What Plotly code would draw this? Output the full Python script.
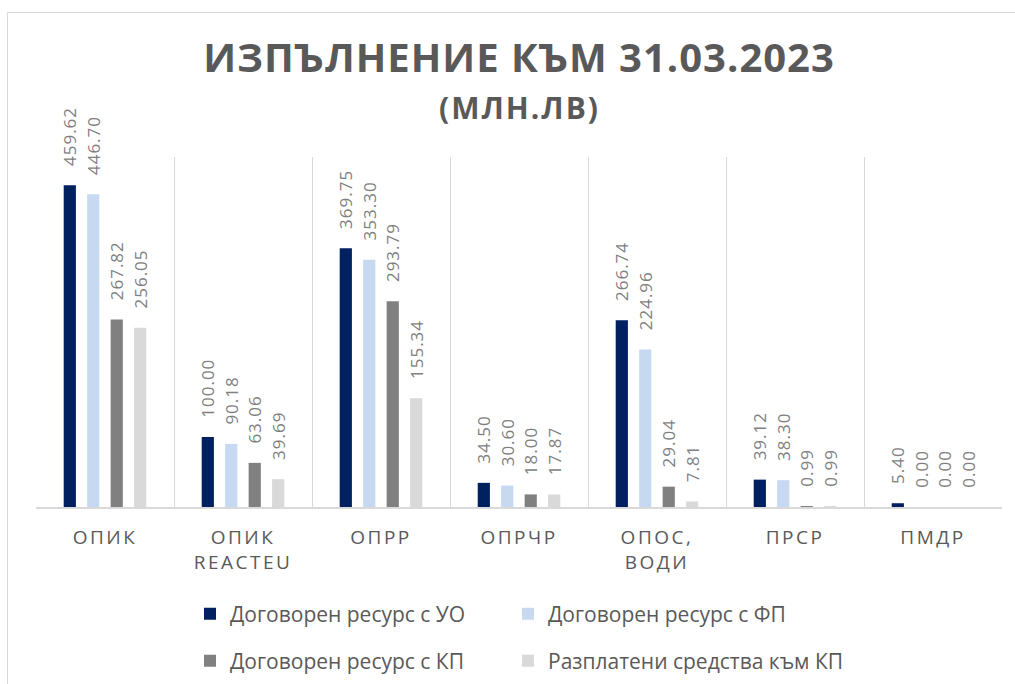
import plotly.graph_objects as go

categories = ["ОПИК", "ОПИК<br>REACTEU", "ОПРР", "ОПРЧР", "ОПОС,<br>ВОДИ", "ПРСР", "ПМДР"]
series_names = [
    "Договорен ресурс с УО",
    "Договорен ресурс с ФП",
    "Договорен ресурс с КП",
    "Разплатени средства към КП",
]
uo_values = [459.62, 100.00, 369.75, 34.50, 266.74, 39.12, 5.40]
fp_values = [446.70, 90.18, 353.30, 30.60, 224.96, 38.30, 0.00]
kp_values = [267.82, 63.06, 293.79, 18.00, 29.04, 0.99, 0.00]
paid_values = [256.05, 39.69, 155.34, 17.87, 7.81, 0.99, 0.00]
colors = ["#002060", "#C6D9F1", "#808080", "#D9D9D9"]

FONT = "Open Sans"
TXT = "#595959"

fig = go.Figure()
all_values = [uo_values, fp_values, kp_values, paid_values]
legend_ids = ["legend", "legend2", "legend3", "legend4"]
for name, vals, col, lg in zip(series_names, all_values, colors, legend_ids):
    fig.add_trace(go.Bar(
        name=name,
        x=categories,
        y=vals,
        marker=dict(color=col, line=dict(width=0)),
        texttemplate="<span style='letter-spacing:1px'>\u00a0\u00a0\u00a0%{y:.2f}</span>",
        textposition="outside",
        textangle=-90,
        constraintext="none",
        cliponaxis=False,
        textfont=dict(family=FONT, size=17, color="#7f7f7f"),
        legend=lg,
        showlegend=True,
        hoverinfo="skip",
    ))

ticktext = ["<span style='letter-spacing:2.5px'>%s</span>" % c for c in categories]

legend_common = dict(
    orientation="h",
    xref="container", yref="container",
    xanchor="left",
    yanchor="middle",
    font=dict(family=FONT, size=21, color=TXT),
    bgcolor="rgba(0,0,0,0)",
    visible=True,
)
col_x = [190 / 1015, 508 / 1015]
row_y = [1 - 614 / 684, 1 - 661 / 684]

fig.update_layout(
    width=1015,
    height=684,
    showlegend=True,
    paper_bgcolor="white",
    plot_bgcolor="white",
    margin=dict(l=36, r=13, t=157, b=177),
    barmode="group",
    bargap=0.32,
    bargroupgap=0.48,
    font=dict(family=FONT, color=TXT),
    title=dict(
        text="<span style='letter-spacing:1px'>ИЗПЪЛНЕНИЕ КЪМ 31.03.2023</span>",
        font=dict(family=FONT, size=40, color=TXT, weight="bold"),
        x=0.5, xanchor="center",
        xref="paper",
        y=1 - 58 / 684, yanchor="middle", yref="container",
    ),
    annotations=[dict(
        text="<span style='letter-spacing:2px'>(МЛН.ЛВ)</span>",
        xref="paper", yref="paper", x=0.5, y=(507 - 107) / 350,
        xanchor="center", yanchor="middle", showarrow=False,
        font=dict(family=FONT, size=30, color=TXT, weight="bold"),
    )],
    xaxis=dict(
        type="category",
        tickmode="array",
        tickvals=categories,
        ticktext=ticktext,
        tickson="boundaries",
        showgrid=True,
        gridcolor="#d9d9d9",
        gridwidth=1,
        showline=True,
        linecolor="#d9d9d9",
        linewidth=2,
        ticks="",
        tickfont=dict(family=FONT, size=19, color=TXT),
        ticklabelstandoff=12,
        range=[-0.5, 6.5],
    ),
    yaxis=dict(
        range=[0, 500],
        showgrid=False,
        showticklabels=False,
        zeroline=False,
        showline=False,
        ticks="",
    ),
    legend=dict(legend_common, x=col_x[0], y=row_y[0]),
    legend2=dict(legend_common, x=col_x[1], y=row_y[0]),
    legend3=dict(legend_common, x=col_x[0], y=row_y[1]),
    legend4=dict(legend_common, x=col_x[1], y=row_y[1]),
    shapes=[dict(
        type="rect", xref="paper", yref="paper",
        x0=(7.5 - 36) / 966, x1=1.1,
        y0=-1.0, y1=(507 - 12.5) / 350,
        line=dict(color="#d9d9d9", width=1),
        fillcolor="rgba(0,0,0,0)",
        layer="below",
    )],
)

fig.write_html(
    "out.html",
    config={"displayModeBar": False},
    post_script="document.body.style.margin='0';document.body.style.overflow='hidden';",
)
